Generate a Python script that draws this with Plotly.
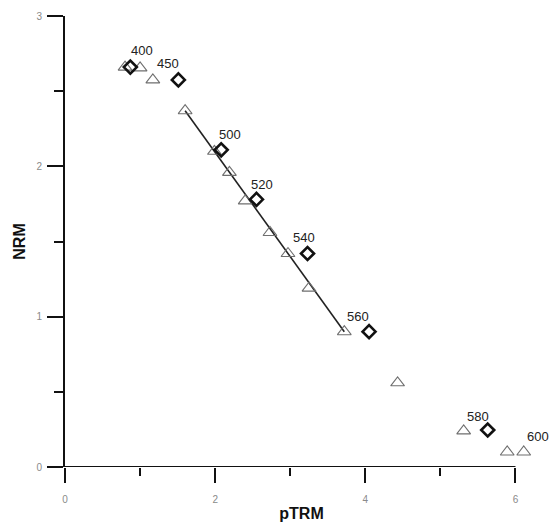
import plotly.graph_objects as go

# Arai plot data (pTRM gained vs NRM remaining)
tri_x = [0.80, 1.00, 1.17, 1.60, 1.99, 2.19, 2.40, 2.73, 2.97, 3.25, 3.72, 4.43, 5.31, 5.89, 6.11]
tri_y = [2.66, 2.655, 2.575, 2.37, 2.10, 1.96, 1.77, 1.56, 1.42, 1.19, 0.90, 0.56, 0.24, 0.10, 0.10]

chk_x = [0.87, 1.51, 2.08, 2.55, 3.23, 4.05, 5.63]
chk_y = [2.66, 2.575, 2.11, 1.78, 1.42, 0.90, 0.246]

fit_x = [1.60, 3.72]
fit_y = [2.37, 0.90]

label_text = ["400", "450", "500", "520", "540", "560", "580", "600"]
label_x = [0.87, 1.51, 2.08, 2.55, 3.23, 4.05, 5.63, 6.11]
label_y = [2.66, 2.575, 2.11, 1.78, 1.42, 0.90, 0.246, 0.10]

x_ticks = [0, 2, 4, 6]
y_ticks = [0, 1, 2, 3]

# pixel offsets of labels (style)
label_dx = [12, -10, 9, 6, -4, -11, -10, 14]
label_dy = [17, 16, 15, 15, 16, 15, 14, 15]

FONT = "Liberation Sans, Arial"

fig = go.Figure()

fig.add_trace(go.Scatter(
    x=fit_x, y=fit_y, mode="lines",
    line=dict(color="#222222", width=1.6),
    hoverinfo="skip", showlegend=False))

fig.add_trace(go.Scatter(
    x=tri_x, y=tri_y, mode="markers",
    marker=dict(symbol="triangle-up-open", size=12,
                color="#6f6f6f", line=dict(width=1.1, color="#6f6f6f")),
    showlegend=False, cliponaxis=False))

fig.add_trace(go.Scatter(
    x=chk_x, y=chk_y, mode="markers",
    marker=dict(symbol="diamond-open", size=10,
                color="#111111", line=dict(width=2.6, color="#111111")),
    showlegend=False, cliponaxis=False))

for t, x, y, dx, dy in zip(label_text, label_x, label_y, label_dx, label_dy):
    fig.add_annotation(x=x, y=y, text=t, showarrow=False,
                       xshift=dx, yshift=dy,
                       font=dict(family=FONT, size=13, color="#222222"))

# x axis line only spans the labelled range (0..last tick)
fig.add_shape(type="line", xref="x", yref="y",
              x0=x_ticks[0], x1=x_ticks[-1], y0=0, y1=0,
              line=dict(color="#111111", width=2), layer="above")

axis_common = dict(
    showgrid=False, zeroline=False, automargin=False,
    ticks="outside", tickwidth=2, tickcolor="#111111",
    tickfont=dict(family=FONT, size=10, color="#8a8a8a"),
    title_font=dict(family=FONT, size=16, color="#111111"),
)

fig.update_xaxes(range=[0, 6.3], tickvals=x_ticks, ticklen=15, showline=False,
                 ticklabelstandoff=8,
                 minor=dict(tickvals=[1, 3, 5], ticklen=8, tickwidth=2, tickcolor="#111111", ticks="outside"),
                 title_text="<b>pTRM</b>", title_standoff=4, **axis_common)
fig.update_yaxes(range=[0, 3], tickvals=y_ticks, ticklen=16, showline=True,
                 ticklabelstandoff=3,
                 linecolor="#111111", linewidth=2,
                 minor=dict(dtick=0.5, ticklen=9, tickwidth=2, tickcolor="#111111", ticks="outside"),
                 title_text="<b>NRM</b>", title_standoff=7, **axis_common)

fig.update_layout(
    width=549, height=522,
    margin=dict(l=65, r=11, t=16, b=55),
    plot_bgcolor="white", paper_bgcolor="white",
)

fig.write_html("out.html", config={"displayModeBar": False},
               post_script="document.body.style.margin='0';")
